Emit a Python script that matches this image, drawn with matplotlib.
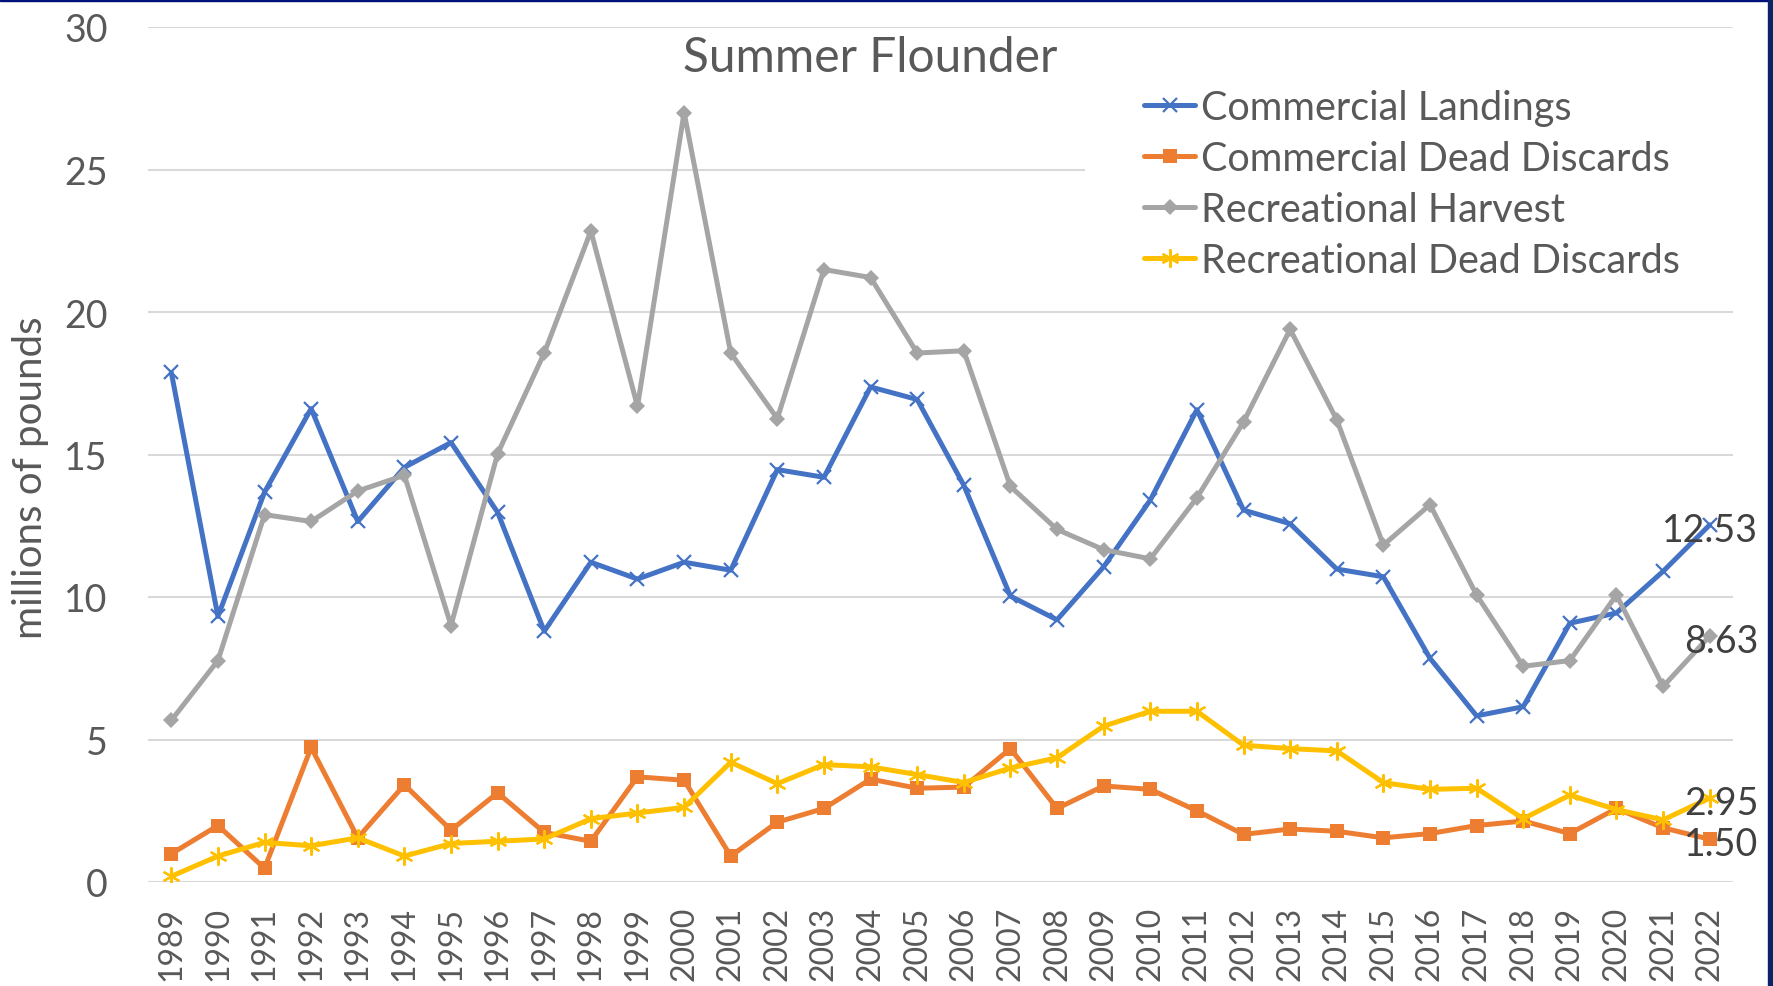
"""Summer Flounder landings and discards, 1989-2022."""

import matplotlib

matplotlib.use("Agg")
import matplotlib.pyplot as plt
from matplotlib.patches import Rectangle

years = list(range(1989, 2023))

commercial_landings = [
    17.88, 9.32, 13.68, 16.61, 12.65, 14.55, 15.42, 12.97, 8.80, 11.22,
    10.63, 11.22, 10.94, 14.47, 14.20, 17.37, 16.93, 13.92, 10.03, 9.20,
    11.06, 13.40, 16.57, 13.05, 12.57, 10.98, 10.71, 7.85, 5.83, 6.15,
    9.08, 9.44, 10.90, 12.53,
]
commercial_dead_discards = [
    0.99, 1.98, 0.48, 4.72, 1.55, 3.41, 1.82, 3.13, 1.74, 1.43,
    3.69, 3.57, 0.91, 2.10, 2.58, 3.61, 3.29, 3.33, 4.68, 2.58,
    3.37, 3.25, 2.50, 1.67, 1.86, 1.78, 1.55, 1.70, 1.98, 2.14,
    1.70, 2.58, 1.90, 1.50,
]
recreational_harvest = [
    5.67, 7.77, 12.89, 12.65, 13.72, 14.27, 9.00, 15.03, 18.56, 22.84,
    16.69, 27.00, 18.56, 16.26, 21.49, 21.21, 18.56, 18.64, 13.88, 12.37,
    11.66, 11.34, 13.48, 16.14, 19.39, 16.22, 11.82, 13.24, 10.07, 7.57,
    7.77, 10.07, 6.86, 8.63,
]
recreational_dead_discards = [
    0.20, 0.91, 1.39, 1.27, 1.55, 0.91, 1.35, 1.43, 1.51, 2.22,
    2.42, 2.62, 4.20, 3.45, 4.12, 4.04, 3.77, 3.49, 4.00, 4.36,
    5.47, 5.99, 5.99, 4.80, 4.68, 4.60, 3.49, 3.25, 3.29, 2.22,
    3.05, 2.54, 2.18, 2.95,
]

series = [
    ("Commercial Landings", commercial_landings, "#4472C4",
     dict(marker="x", ms=10, mew=1.6)),
    ("Commercial Dead Discards", commercial_dead_discards, "#ED7D31",
     dict(marker="s", ms=10.5, mew=0)),
    ("Recreational Harvest", recreational_harvest, "#A5A5A5",
     dict(marker="D", ms=8, mew=0)),
    ("Recreational Dead Discards", recreational_dead_discards, "#FFC000",
     dict(marker=(6, 2, 0), ms=13, mew=1.6)),
]

plt.rcParams["font.family"] = ["Lato", "DejaVu Sans"]

fig = plt.figure(figsize=(17.73, 9.87), dpi=100)
ax = fig.add_axes([148 / 1773, 104 / 987, 1585 / 1773, 855 / 987])

x = list(range(len(years)))
for label, vals, color, mk in series:
    ax.plot(x, vals, color=color, lw=3.6, label=label,
            solid_joinstyle="round", solid_capstyle="round", **mk)
    ax.annotate(f"{vals[-1]:.2f}", (x[-1], vals[-1]), xytext=(35, -3.5),
                textcoords="offset points", ha="right", va="center",
                fontsize=27, color="#404040")

ax.set_xlim(-0.5, len(years) - 0.5)
ax.set_ylim(0, 30)
ax.set_yticks(range(0, 31, 5))
ax.set_xticks(x)
ax.set_xticklabels([str(y) for y in years], rotation=90)
ax.tick_params(axis="y", length=0, pad=29, labelsize=27, labelcolor="#595959")
ax.tick_params(axis="x", length=0, pad=17, labelsize=23, labelcolor="#595959")
ax.grid(axis="y", color="#D9D9D9", lw=1.5)
ax.set_axisbelow(True)
for s in ax.spines.values():
    s.set_visible(False)

# white legend area that hides the 25 gridline (pixel coords)
ax.add_patch(Rectangle((1085, 987 - 290), 660, 250, transform=None,
                       facecolor="white", edgecolor="none", zorder=0.9))

fig.text(31 / 1773, 1 - 478 / 987, "millions of pounds", rotation=90,
         ha="center", va="center", fontsize=29, color="#595959")
fig.text(870 / 1773, 1 - 72 / 987, "Summer Flounder", ha="center",
         va="baseline", fontsize=34.5, color="#595959")

leg = ax.legend(loc="upper left", bbox_to_anchor=(1144 / 1773, 1 - 90 / 987),
                bbox_transform=fig.transFigure, fontsize=28.5, frameon=False,
                borderpad=0, handlelength=1.3, handletextpad=0.15,
                labelspacing=0.35, borderaxespad=0)
for t in leg.get_texts():
    t.set_color("#595959")

# navy slide edges along the top and right
fig.patches.append(Rectangle((0, 985), 1773, 2, transform=None,
                             color="#00107A", zorder=10))
fig.patches.append(Rectangle((1768, 0), 5, 987, transform=None,
                             color="#0A2468", zorder=10))

fig.savefig("out.png", dpi=100, facecolor="white")
